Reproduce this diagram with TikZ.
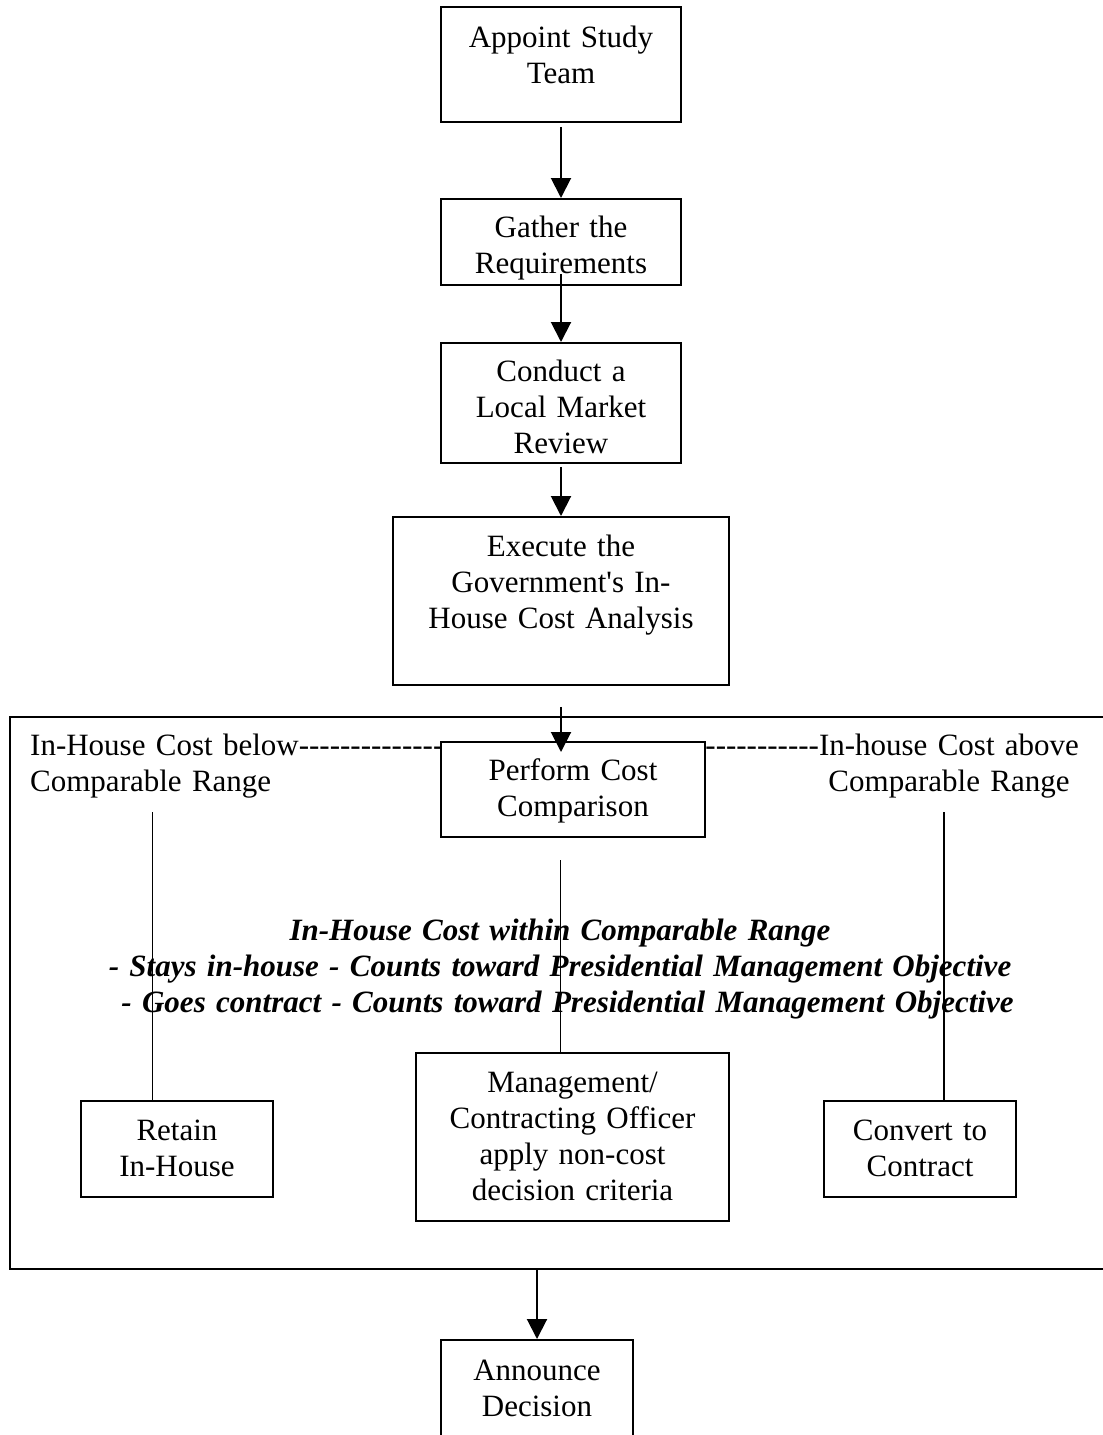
\documentclass[tikz,border=0pt]{standalone}
\usepackage{fontspec}
\setmainfont{Liberation Serif}
\usetikzlibrary{arrows.meta,positioning}
\newcommand{\boxfont}{\fontsize{31pt}{36pt}\selectfont}
\newcommand{\hyphenrun}[1]{\foreach\k in {1,...,#1}{\mbox{-}}}

\begin{document}
\begin{tikzpicture}[x=1pt, y=-1pt,
    stepbox/.style={rectangle, draw, fill=white, line width=1.8pt, inner sep=0pt,
                    align=center, font=\boxfont, anchor=north},
    lbl/.style={inner sep=0pt, font=\boxfont},
    arr/.style={-{Triangle[length=20pt, width=20pt]}, line width=2pt},
    link/.style={line width=1.6pt}
  ]
  \useasboundingbox (0,0) rectangle (1103,1435);

  % Comparison frame
  \node[draw, line width=2pt, inner sep=0pt, minimum width=1101pt, minimum height=552pt,
        anchor=north west] (frame) at (9,716) {};

  % Range labels
  \node[lbl, text width=330pt, align=left, anchor=base west] (below) at (30,755)
    {In-House Cost below\makebox[0pt][l]{\hyphenrun{16}}\\Comparable Range};
  \node[lbl, text width=330pt, align=center, anchor=base] (above) at (949,755)
    {\makebox[0pt][r]{\hyphenrun{14}}In-house Cost above\\Comparable Range};
  \node[lbl, font=\boxfont\bfseries\itshape, text width=1000pt, align=center, anchor=base] (within) at (560,940)
    {In-House Cost within Comparable Range\\
     - Stays in-house - Counts toward Presidential Management Objective\\
     \hspace*{15pt}- Goes contract - Counts toward Presidential Management Objective};

  % Process steps
  \node[stepbox, text width=240pt, text height=41pt, text depth=74pt] (appoint) at (561,6)
    {Appoint Study\\Team};
  \node[stepbox, text width=240pt, text height=39pt, text depth=47pt] (gather) at (561,198)
    {Gather the\\Requirements};
  \node[stepbox, text width=240pt, text height=39pt, text depth=81pt] (conduct) at (561,342)
    {Conduct a\\Local Market\\Review};
  \node[stepbox, text width=336pt, text height=40pt, text depth=128pt] (execute) at (561,516)
    {Execute the\\Government\textquotesingle s In-\\House Cost Analysis};
  \node[stepbox, text width=264pt, text height=39pt, text depth=56pt] (perform) at (573,741)
    {Perform Cost\\Comparison};
  \node[stepbox, text width=192pt, text height=40pt, text depth=56pt] (retain) at (177,1100)
    {Retain\\In-House};
  \node[stepbox, text width=313pt, text height=40pt, text depth=128pt] (manage) at (572.5,1052)
    {Management/\\Contracting Officer\\apply non-cost\\decision criteria};
  \node[stepbox, text width=192pt, text height=40pt, text depth=56pt] (convert) at (920,1100)
    {Convert to\\Contract};
  \node[stepbox, text width=192pt, text height=41pt, text depth=110pt] (announce) at (537,1339)
    {Announce\\Decision};

  % Outcome lines
  \draw[link] ([xshift=-24.5pt]retain.north) -- ++(0,-288);
  \draw[link] ([xshift=-12pt]manage.north) -- ++(0,-192);
  \draw[link] ([xshift=24pt]convert.north) -- ++(0,-288);

  % Connections
  \draw[arr, shorten <=4pt] (appoint) -- (gather);
  \draw[arr, shorten <=-12pt] (gather.south) -- (conduct.north);
  \draw[arr, shorten <=3pt] (conduct) -- (execute);
  \draw[arr, shorten <=21pt, shorten >=-11pt] (execute.south) -- (execute.south |- perform.north);
  \draw[arr] (frame.south -| announce.north) -- (announce.north);
\end{tikzpicture}
\end{document}
